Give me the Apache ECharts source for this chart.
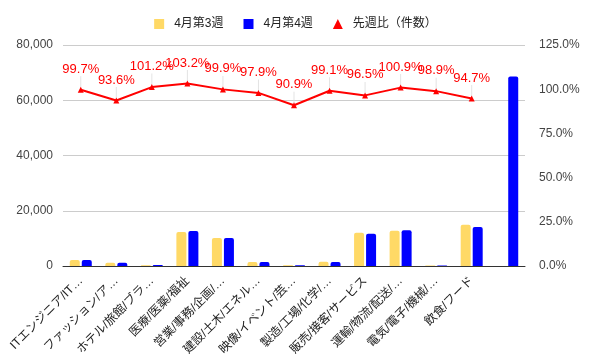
<!DOCTYPE html>
<html><head><meta charset="utf-8">
<script src="https://cdn.jsdelivr.net/npm/echarts@6/dist/echarts.min.js"></script>
<style>html,body{margin:0;padding:0;background:#fff}#c{width:591px;height:363px}</style>
</head><body><div id="c"></div>
<script>
const categories = ['ITエンジニア/IT…','ファッション/ア…','ホテル/旅館/ブラ…','医療/医薬/福祉','営業/事務/企画/…','建設/土木/エネル…','映像/イベント/芸…','製造/工場/化学/…','販売/接客/サービス','運輸/物流/配送/…','電気/電子/機械/…','飲食/フード',''];
const week3 = [2200,1200,300,12300,10100,1450,250,1500,12050,12800,200,14950,null];
const week4 = [2200,1150,350,12700,10100,1420,230,1480,11650,12900,200,14150,68600];
const ratio = [99.7,93.6,101.2,103.2,99.9,97.9,90.9,99.1,96.5,100.9,98.9,94.7,null];
const leftTicks = {min:0,max:80000,interval:20000};
const rightTicks = {min:0,max:125,interval:25};

const font = 'Arial, "Liberation Sans", "Noto Sans CJK JP", sans-serif';
const chart = echarts.init(document.getElementById('c'));
chart.setOption({
  animation:false,
  textStyle:{fontFamily:font},
  legend:{
    top:13,left:'center',itemWidth:10,itemHeight:10,itemGap:20,
    textStyle:{fontSize:12,color:'#222',fontFamily:font,padding:[0,0,0,5]},
    data:[{name:'4月第3週',icon:'rect'},{name:'4月第4週',icon:'rect'},{name:'先週比（件数）',icon:'triangle'}]
  },
  grid:{left:63,right:66,top:45,bottom:97},
  xAxis:{
    type:'category',data:categories,
    axisLine:{lineStyle:{color:'#333'}},
    axisTick:{show:false},
    axisLabel:{rotate:45,fontSize:12,color:'#222',interval:0,margin:13,fontFamily:font}
  },
  yAxis:[{
    type:'value',...leftTicks,
    axisLabel:{fontSize:12,color:'#444',formatter:v=>v.toLocaleString('en-US'),margin:10,fontFamily:font},
    splitLine:{lineStyle:{color:'#ccc'}},axisLine:{show:false},axisTick:{show:false}
  },{
    type:'value',...rightTicks,
    axisLabel:{fontSize:12,color:'#444',formatter:v=>v.toFixed(1)+'%',margin:14,fontFamily:font},
    splitLine:{show:false},axisLine:{show:false},axisTick:{show:false}
  }],
  series:[{
    name:'4月第3週',type:'bar',data:week3,barWidth:10,barGap:'20%',
    itemStyle:{color:'#ffd966',borderRadius:[2,2,0,0]}
  },{
    name:'4月第4週',type:'bar',data:week4,barWidth:10,
    itemStyle:{color:'#0000ff',borderRadius:[2,2,0,0]}
  },{
    name:'leader',type:'scatter',yAxisIndex:1,data:ratio,silent:true,z:1,
    symbol:'rect',symbolSize:[1,13],symbolOffset:[0,-7],
    itemStyle:{color:'#dcdcdc'},legendHoverLink:false
  },{
    name:'先週比（件数）',type:'line',yAxisIndex:1,data:ratio,z:3,
    symbol:'triangle',symbolSize:6,
    lineStyle:{color:'#ff0000',width:2},itemStyle:{color:'#ff0000'},
    label:{show:true,position:'top',distance:11,color:'#ff0000',fontSize:13,fontFamily:font,formatter:p=>p.value.toFixed(1)+'%'}
  }]
});
</script></body></html>
